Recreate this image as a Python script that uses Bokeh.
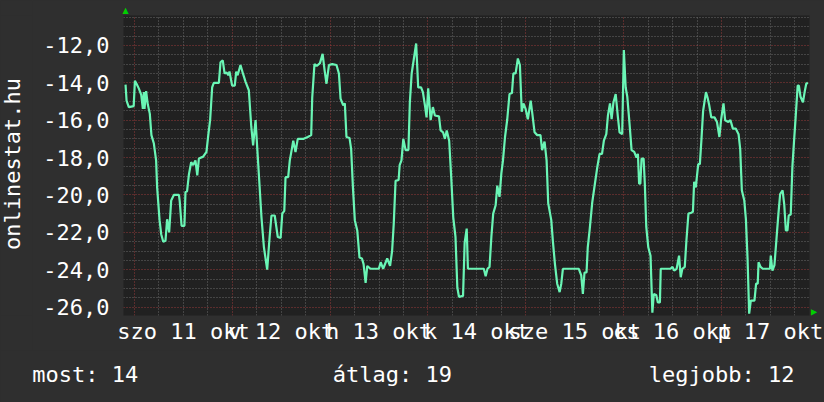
import math
from bokeh.plotting import figure
from bokeh.models import FixedTicker, Range1d, Title
from bokeh.layouts import row, column
from bokeh.core.properties import value
from bokeh.embed import file_html
from bokeh.resources import INLINE

# hours since 11 okt 00:00
hours = [-2.2, -1.95, -1.4, -0.2, 0.1, 0.5, 1.05, 1.65, 2.05, 2.3, 2.45, 2.85, 3.25, 3.75, 4.15, 4.75, 5.3, 5.55, 6.15, 6.55,
         7.05, 7.6, 8.0, 8.5, 9.0, 9.65, 10.9, 11.1, 11.55, 12.25, 12.5, 12.9, 13.35, 13.9, 14.4, 14.95, 15.4, 15.8, 16.85, 17.65,
         18.1, 18.55, 19.05, 19.45, 20.7, 21.1, 21.65, 22.1, 22.6, 23.0, 23.3, 23.95, 24.6, 24.95, 25.3, 26.0, 26.6, 27.25, 28.05, 28.65,
         29.1, 29.7, 30.1, 30.65, 31.15, 31.75, 32.55, 33.15, 33.6, 34.4, 35.15, 35.85, 36.25, 36.75, 37.05, 37.7, 38.1, 38.55, 38.95, 39.5,
         40.05, 41.5, 42.5, 43.35, 43.6, 44.15, 44.7, 45.5, 46.15, 46.65, 47.1, 47.7, 48.5, 49.55, 50.15, 50.55, 51.2, 51.6, 52.0, 52.75,
         53.15, 53.6, 54.05, 54.65, 55.2, 55.8, 56.2, 56.7, 57.1, 57.9, 59.95, 60.4, 61.0, 62.0, 62.7, 63.2, 63.6, 64.05, 64.8, 65.05,
         65.5, 65.95, 66.5, 67.2, 67.55, 68.0, 68.55, 69.1, 69.6, 70.3, 70.75, 71.25, 71.65, 72.05, 72.65, 73.2, 73.7, 74.7, 75.1, 75.7,
         76.15, 76.6, 77.2, 77.7, 78.2, 78.75, 79.2, 79.6, 80.6, 81.0, 81.5, 81.8, 85.7, 86.15, 86.6, 87.1, 87.55, 88.0, 88.6, 89.0,
         89.55, 90.0, 90.4, 90.9, 91.45, 92.0, 92.6, 92.95, 93.5, 94.05, 94.55, 95.0, 95.4, 95.95, 96.5, 97.2, 97.6, 98.15, 98.8, 99.6,
         100.0, 100.6, 101.1, 101.5, 102.25, 102.65, 103.15, 103.7, 104.3, 104.7, 105.1, 109.0, 109.6, 110.0, 110.4, 110.9, 111.2, 111.65, 112.3, 112.95,
         113.55, 114.1, 114.7, 115.15, 115.75, 116.15, 116.65, 117.05, 117.5, 118.05, 118.6, 119.0, 119.65, 120.05, 120.5, 120.9, 121.45, 121.95, 122.6, 123.15,
         123.5, 123.8, 124.1, 124.4, 124.9, 125.2, 125.55, 126.05, 126.6, 127.05, 127.4, 128.0, 128.4, 128.9, 129.1, 131.5, 132.0, 132.4, 133.0, 133.6,
         134.0, 134.4, 135.0, 135.4, 135.9, 136.6, 137.0, 137.3, 137.7, 138.3, 138.7, 139.1, 139.5, 140.2, 140.6, 141.0, 141.5, 142.3, 142.9, 143.5,
         143.9, 144.5, 144.9, 145.7, 146.2, 146.8, 147.5, 148.2, 148.6, 149.0, 149.6, 150.0, 150.4, 150.8, 151.2, 152.1, 152.5, 152.9, 153.1, 153.6,
         154.1, 155.9, 156.1, 156.5, 157.0, 157.5, 158.0, 158.4, 159.0, 159.4, 159.8, 160.2, 160.5, 161.0, 161.4, 161.8, 162.2, 162.7, 163.0, 163.4,
         164.0, 164.4, 164.8, 165.2]
temps = [-14.1, -14.95, -15.3, -15.25, -13.9, -14.05, -14.3, -14.65, -15.4, -14.5, -15.4, -14.45, -15.15, -15.65, -16.8, -17.25, -18.15, -19.6, -21.35, -22.1,
         -22.5, -22.45, -21.3, -22.0, -20.3, -20.0, -20.0, -20.35, -21.65, -21.65, -19.85, -19.8, -18.9, -18.25, -18.4, -18.15, -18.95, -18.05, -17.95, -17.7,
         -16.8, -16.0, -14.25, -14.0, -14.0, -12.9, -12.8, -13.5, -13.45, -13.6, -13.4, -14.15, -14.15, -13.4, -13.6, -13.05, -13.5, -13.95, -14.4, -16.35,
         -17.35, -16.0, -17.45, -19.4, -21.2, -22.8, -24.0, -22.25, -21.1, -21.1, -22.25, -22.3, -21.0, -20.85, -19.05, -19.05, -18.15, -17.6, -17.1, -17.7,
         -17.0, -17.0, -16.9, -16.8, -14.8, -13.0, -13.1, -12.95, -12.45, -13.35, -14.05, -13.05, -13.0, -13.05, -13.5, -14.85, -15.2, -15.1, -16.9, -16.95,
         -17.55, -19.65, -21.35, -21.9, -23.35, -23.4, -23.7, -24.7, -23.8, -23.95, -23.95, -23.6, -23.95, -23.4, -23.8, -23.0, -21.55, -19.25, -19.2, -18.4,
         -18.15, -17.0, -17.6, -17.6, -15.05, -13.5, -12.7, -11.9, -14.25, -14.25, -14.5, -15.2, -15.85, -14.3, -16.0, -15.3, -15.75, -15.8, -16.55, -16.65,
         -17.0, -16.55, -17.1, -19.05, -21.2, -22.25, -24.95, -25.45, -25.4, -22.55, -21.8, -23.95, -23.95, -24.35, -23.95, -23.85, -22.25, -21.0, -20.55, -19.5,
         -20.1, -18.85, -18.15, -16.9, -15.95, -14.6, -14.55, -13.5, -13.5, -12.7, -13.05, -15.55, -15.1, -15.4, -15.95, -14.95, -15.65, -16.65, -16.8, -16.8,
         -17.6, -17.15, -18.15, -20.45, -21.35, -22.5, -23.7, -24.75, -25.2, -24.75, -23.95, -23.95, -24.3, -25.3, -24.15, -24.15, -22.8, -21.9, -20.4, -19.4,
         -18.5, -17.8, -17.8, -17.1, -16.75, -15.75, -15.1, -15.95, -15.05, -14.6, -15.85, -16.65, -16.75, -12.25, -14.25, -14.75, -16.2, -17.6, -17.7, -18.0,
         -17.8, -19.4, -19.4, -18.05, -18.05, -19.4, -21.7, -22.8, -23.25, -26.3, -25.3, -25.35, -25.75, -25.75, -23.95, -23.95, -23.85, -24.05, -23.95, -23.25,
         -24.4, -23.95, -23.85, -22.45, -21.0, -20.95, -20.9, -19.3, -19.6, -18.35, -18.35, -17.0, -15.5, -14.5, -14.8, -15.2, -15.85, -15.85, -16.1, -16.9,
         -16.0, -15.1, -16.0, -16.1, -16.0, -16.45, -16.45, -16.75, -17.55, -19.75, -20.3, -21.3, -23.4, -26.35, -25.65, -25.65, -24.75, -24.75, -23.6, -23.85,
         -23.95, -23.95, -23.25, -24.05, -23.75, -22.35, -20.95, -19.95, -19.75, -20.5, -21.9, -21.9, -21.1, -21.05, -18.5, -17.15, -15.85, -14.15, -14.15, -14.75,
         -15.05, -14.5, -14.05, -14.0]

day_starts = [0, 24, 48, 72, 96, 120, 144]
day_label_pos = [12, 36, 60, 84, 108, 132, 156]
day_labels = ["szo 11 okt", "v 12 okt", "h 13 okt", "k 14 okt", "sze 15 okt", "cs 16 okt", "p 17 okt"]
y_ticks = [-26, -24, -22, -20, -18, -16, -14, -12]
y_labels = ["-26,0", "-24,0", "-22,0", "-20,0", "-18,0", "-16,0", "-14,0", "-12,0"]
y_title = "onlinestat.hu"
stats = ["most: 14", "átlag: 19", "legjobb: 12"]

FONT = "DejaVu Sans Mono"
FS = "22px"
BG = "#2f2f2f"
WHITE = "#ffffff"
ARROW = "#00d000"

def blank(w, h, y0=0, y1=None):
    f = figure(width=w, height=h, output_backend="svg", toolbar_location=None,
               x_range=Range1d(0, w), y_range=Range1d(y0, h if y1 is None else y1),
               x_axis_location=None, y_axis_location=None,
               min_border_left=0, min_border_right=0, min_border_top=0, min_border_bottom=0,
               background_fill_color=BG, border_fill_color=BG)
    f.grid.visible = False
    f.outline_line_color = None
    return f

# left strip with rotated title; its frame gets aligned with the main frame (page y 15..315)
left = blank(32, 350, 35, 335)
left.text(x=[12.0], y=[350 - 163.5], text=[y_title], angle=math.pi / 2,
          text_align="center", text_baseline="alphabetic",
          text_font=value(FONT), text_font_size=value(FS), text_color=WHITE)

# main chart
p = figure(width=792, height=350, output_backend="svg", toolbar_location=None,
           x_range=Range1d(-2.7, 165.6), y_range=Range1d(-26.45, -10.4),
           min_border_left=91, min_border_right=15, min_border_top=15, min_border_bottom=35,
           background_fill_color="#212121", border_fill_color=BG)
p.outline_line_color = None

# small green axis arrows (top of y axis, end of x axis)
p.title.text = "▲"
p.title.align = "left"
p.title.offset = -1
p.title.standoff = 2
p.title.text_color = ARROW
p.title.text_font = "DejaVu Sans"
p.title.text_font_size = "8px"
p.add_layout(Title(text="▲", align="right", standoff=1, offset=0, text_color=ARROW,
                   text_font="DejaVu Sans", text_font_size="8px"), "right")

minor_x = [h for h in range(-6, 168, 6) if h % 24 != 0]
p.xgrid.ticker = FixedTicker(ticks=day_starts, minor_ticks=minor_x)
minor_y = [v / 2 for v in range(-53, -20) if v % 4 != 0]
p.ygrid.ticker = FixedTicker(ticks=y_ticks, minor_ticks=minor_y)
for g in (p.xgrid, p.ygrid):
    g.grid_line_color = "#a33c3c"
    g.grid_line_alpha = 0.9
    g.grid_line_dash = "1 2"
    g.grid_line_width = 1
    g.minor_grid_line_color = "#6a6a6a"
    g.minor_grid_line_dash = "1 2"
    g.minor_grid_line_width = 1

p.xaxis.ticker = FixedTicker(ticks=day_label_pos)
p.xaxis.major_label_overrides = {pos: lab for pos, lab in zip(day_label_pos, day_labels)}
p.yaxis.ticker = FixedTicker(ticks=y_ticks)
p.yaxis.major_label_overrides = {t: lab for t, lab in zip(y_ticks, y_labels)}
for ax in (p.xaxis, p.yaxis):
    ax.axis_line_color = None
    ax.major_tick_line_color = None
    ax.minor_tick_line_color = None
    ax.major_tick_out = 0
    ax.major_tick_in = 0
    ax.major_label_text_font = FONT
    ax.major_label_text_font_size = FS
    ax.major_label_text_color = WHITE
p.xaxis.major_label_standoff = 3
p.yaxis.major_label_standoff = 14

p.line(hours, temps, line_color="#6af5b5", line_width=2.2)

# bottom stats strip, full page width (page y 350..402)
bottom = blank(824, 52)
bottom.text(x=[31.7, 332.3], y=[27.8, 27.8], text=stats[:2],
            text_align="left", text_baseline="alphabetic",
            text_font=value(FONT), text_font_size=value(FS), text_color=WHITE)
bottom.text(x=[793.9], y=[27.8], text=stats[2:],
            text_align="right", text_baseline="alphabetic",
            text_font=value(FONT), text_font_size=value(FS), text_color=WHITE)

layout = column(row(left, p, spacing=0), bottom, spacing=0)

html = file_html(layout, INLINE)
html = html.replace("<head>", "<head><style>html,body{background:#2f2f2f;overflow:hidden;}</style>", 1)
open("out.html", "w").write(html)
